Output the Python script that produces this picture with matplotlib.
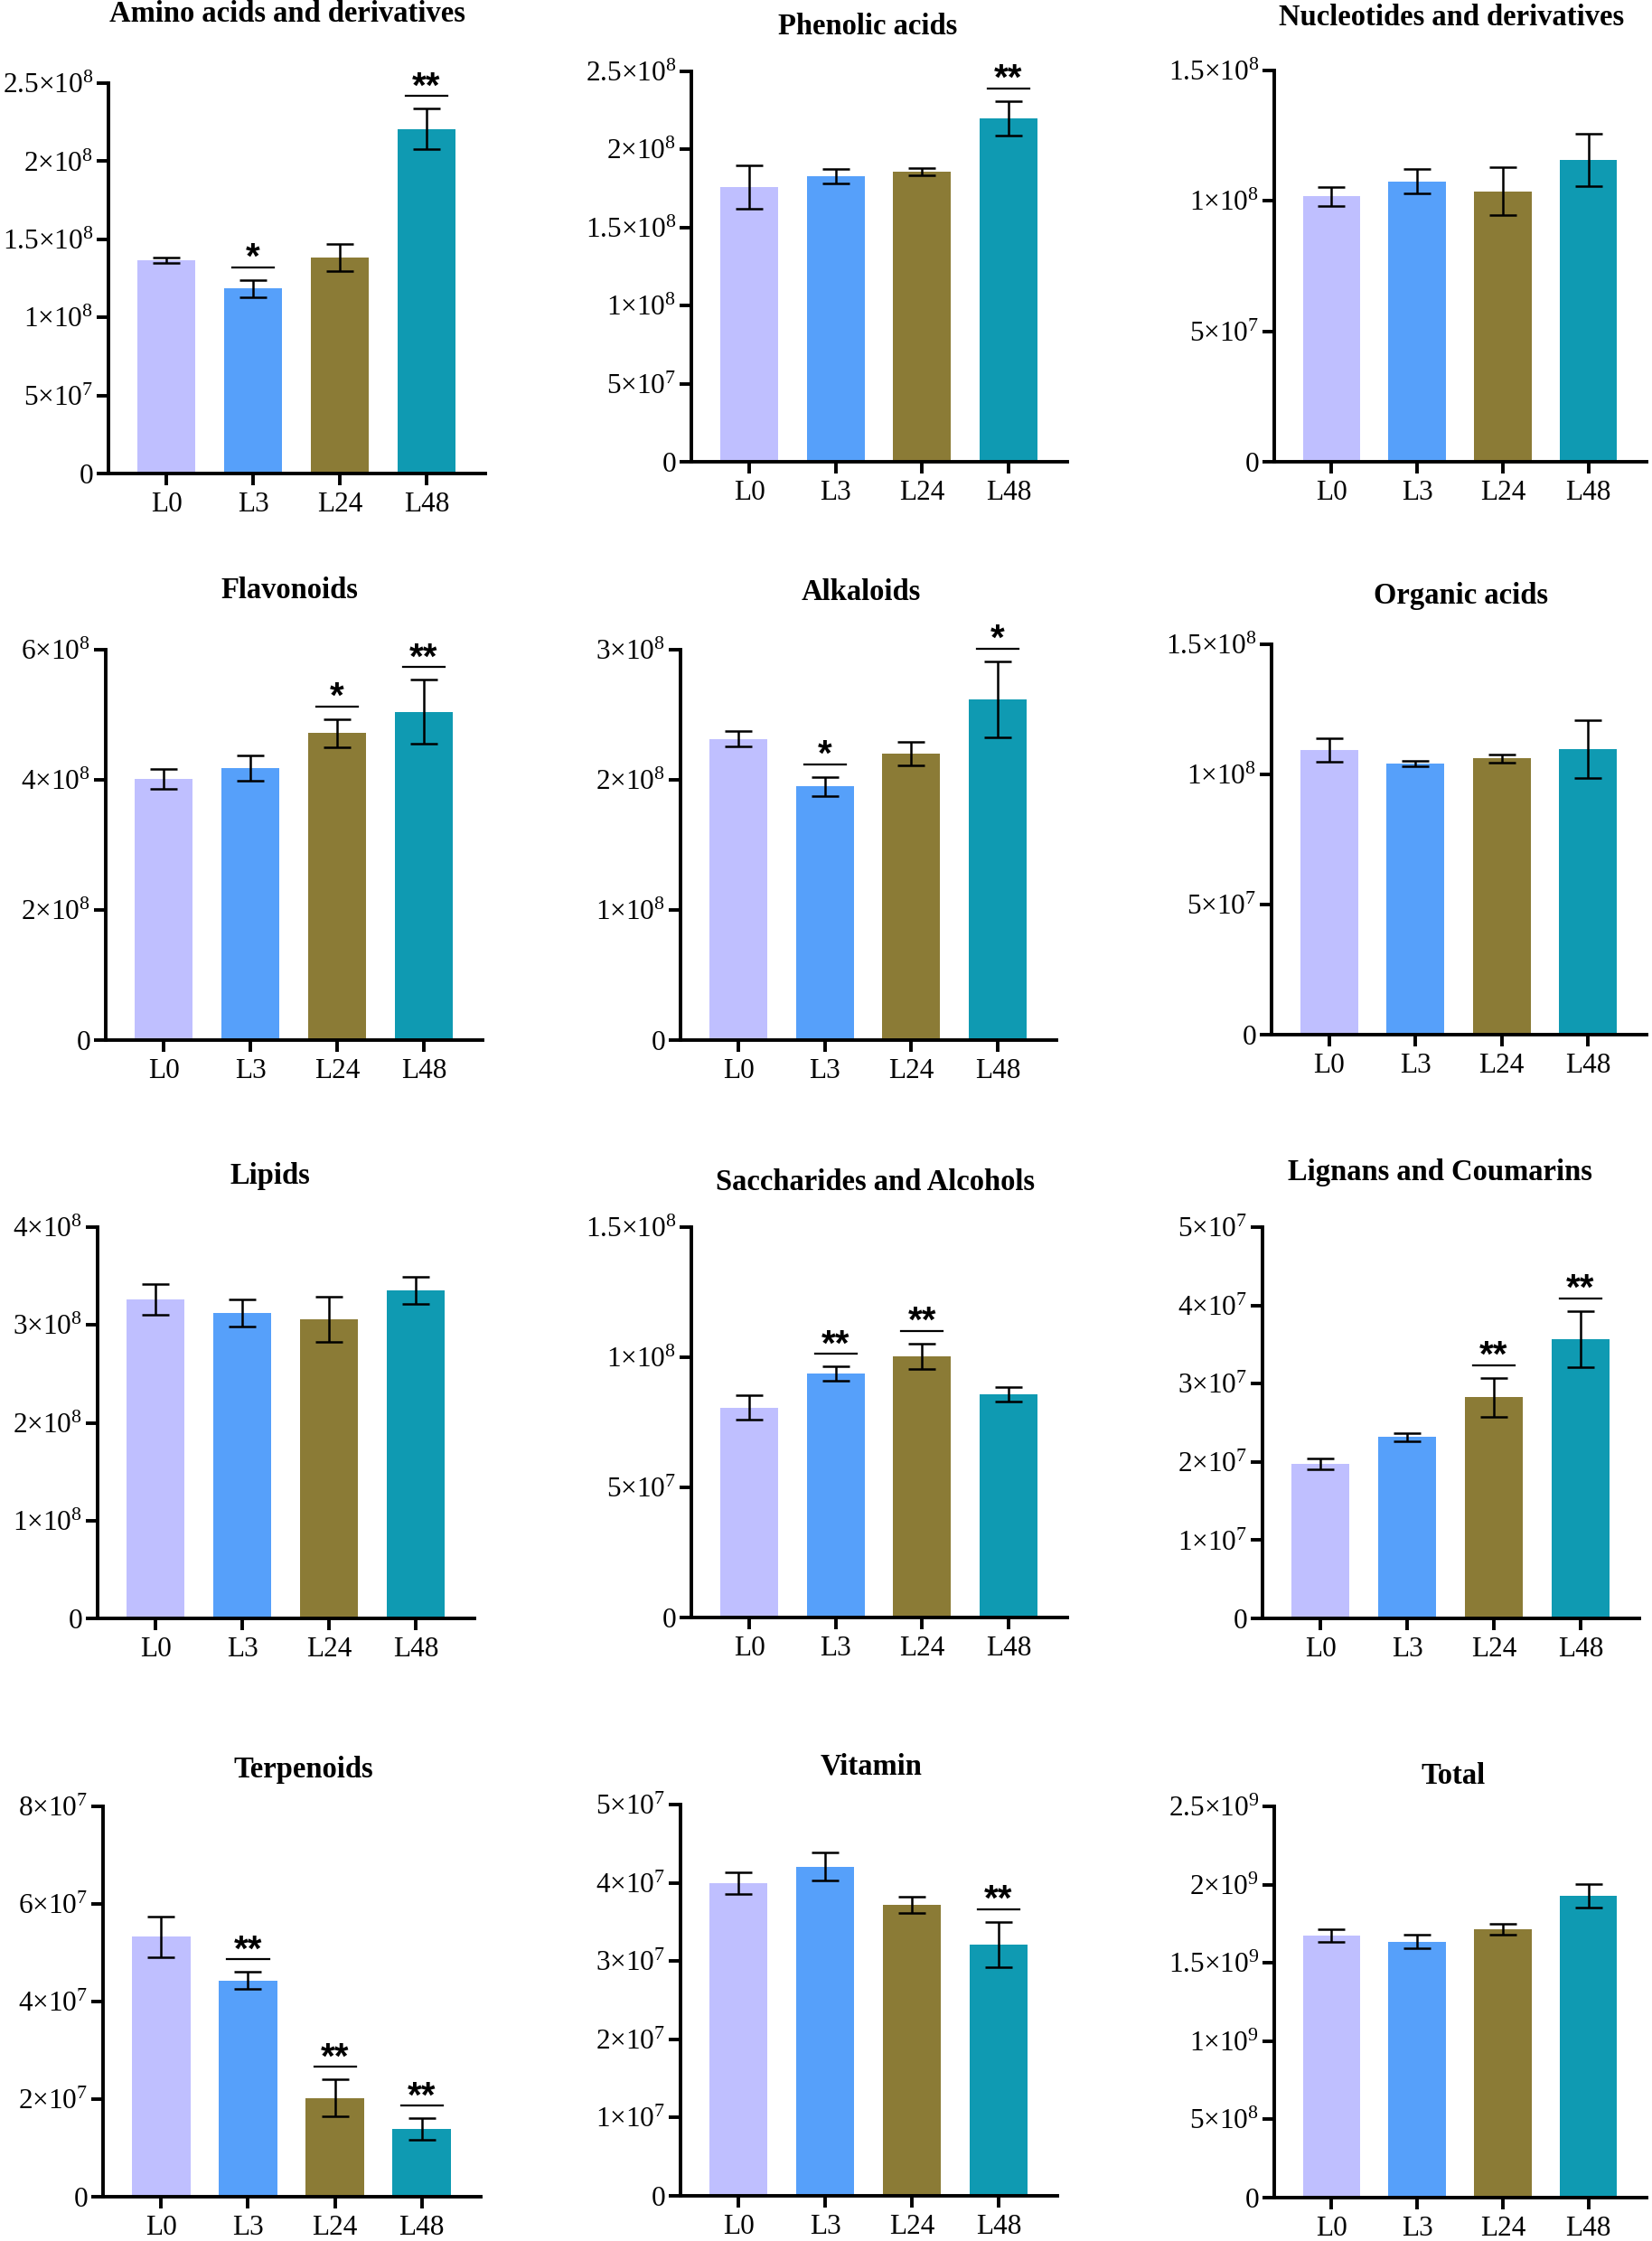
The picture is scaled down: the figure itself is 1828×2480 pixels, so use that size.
import numpy as np
import matplotlib
matplotlib.use("Agg")
import matplotlib.pyplot as plt
from matplotlib.transforms import offset_copy

plt.rcParams["font.family"] = ["Liberation Serif", "DejaVu Serif"]
plt.rcParams["mathtext.fontset"] = "custom"
plt.rcParams["mathtext.rm"] = "Liberation Serif"
plt.rcParams["mathtext.it"] = "Liberation Serif:italic"
plt.rcParams["mathtext.bf"] = "Liberation Serif:bold"

# %% data
groups = ["L0", "L3", "L24", "L48"]
bar_colors = ["#bfbfff", "#56a0fa", "#8b7b36", "#0f9ab2"]

titles = [
    "Amino acids and derivatives", "Phenolic acids", "Nucleotides and derivatives",
    "Flavonoids", "Alkaloids", "Organic acids",
    "Lipids", "Saccharides and Alcohols", "Lignans and Coumarins",
    "Terpenoids", "Vitamin", "Total",
]

amino_mean = [1.365e8, 1.184e8, 1.383e8, 2.206e8]
amino_err = [0.019e8, 0.057e8, 0.087e8, 0.13e8]
amino_sig = ["", "*", "", "**"]

phenolic_mean = [1.759e8, 1.829e8, 1.857e8, 2.199e8]
phenolic_err = [0.138e8, 0.046e8, 0.023e8, 0.109e8]
phenolic_sig = ["", "", "", "**"]

nucleo_mean = [1.017e8, 1.075e8, 1.037e8, 1.156e8]
nucleo_err = [0.036e8, 0.047e8, 0.092e8, 0.10e8]
nucleo_sig = ["", "", "", ""]

flav_mean = [4.01e8, 4.18e8, 4.716e8, 5.045e8]
flav_err = [0.15e8, 0.2e8, 0.22e8, 0.49e8]
flav_sig = ["", "", "*", "**"]

alk_mean = [2.315e8, 1.949e8, 2.203e8, 2.618e8]
alk_err = [0.06e8, 0.073e8, 0.09e8, 0.295e8]
alk_sig = ["", "*", "", "*"]

organic_mean = [1.0925e8, 1.041e8, 1.061e8, 1.0965e8]
organic_err = [0.045e8, 0.011e8, 0.015e8, 0.112e8]
organic_sig = ["", "", "", ""]

lipid_mean = [3.261e8, 3.123e8, 3.059e8, 3.353e8]
lipid_err = [0.16e8, 0.14e8, 0.23e8, 0.14e8]
lipid_sig = ["", "", "", ""]

sacch_mean = [0.806e8, 0.936e8, 1.004e8, 0.858e8]
sacch_err = [0.047e8, 0.028e8, 0.048e8, 0.028e8]
sacch_sig = ["", "**", "**", ""]

lignan_mean = [1.974e7, 2.319e7, 2.827e7, 3.569e7]
lignan_err = [0.066e7, 0.053e7, 0.25e7, 0.355e7]
lignan_sig = ["", "", "**", "**"]

terp_mean = [5.325e7, 4.428e7, 2.019e7, 1.383e7]
terp_err = [0.42e7, 0.175e7, 0.38e7, 0.22e7]
terp_sig = ["", "**", "**", "**"]

vit_mean = [3.996e7, 4.209e7, 3.718e7, 3.209e7]
vit_err = [0.14e7, 0.18e7, 0.1e7, 0.29e7]
vit_sig = ["", "", "", "**"]

total_mean = [1.674e9, 1.636e9, 1.714e9, 1.930e9]
total_err = [0.042e9, 0.045e9, 0.035e9, 0.075e9]
total_sig = ["", "", "", ""]

y_max = [2.5e8, 2.5e8, 1.5e8, 6e8, 3e8, 1.5e8, 4e8, 1.5e8, 5e7, 8e7, 5e7, 2.5e9]
y_step = [5e7, 5e7, 5e7, 2e8, 1e8, 5e7, 1e8, 5e7, 1e7, 2e7, 1e7, 5e8]

panels = [
    (amino_mean, amino_err, amino_sig),
    (phenolic_mean, phenolic_err, phenolic_sig),
    (nucleo_mean, nucleo_err, nucleo_sig),
    (flav_mean, flav_err, flav_sig),
    (alk_mean, alk_err, alk_sig),
    (organic_mean, organic_err, organic_sig),
    (lipid_mean, lipid_err, lipid_sig),
    (sacch_mean, sacch_err, sacch_sig),
    (lignan_mean, lignan_err, lignan_sig),
    (terp_mean, terp_err, terp_sig),
    (vit_mean, vit_err, vit_sig),
    (total_mean, total_err, total_sig),
]

# layout in pixels: axis left, axis right, top tick, zero line, title x, title baseline
W, H = 1828, 2480
layout = [
    (120, 537, 92, 524, 318, 24),
    (765, 1181, 79, 511, 960, 38),
    (1410, 1822, 78, 511, 1606, 28),
    (117, 534, 719, 1151, 320, 662),
    (753, 1169, 719, 1151, 953, 664),
    (1407, 1822, 713, 1145, 1616, 668),
    (108, 525, 1358, 1791, 299, 1310),
    (765, 1181, 1358, 1790, 968, 1317),
    (1397, 1814, 1358, 1791, 1593, 1306),
    (114, 532, 1999, 2431, 336, 1967),
    (753, 1170, 1997, 2430, 964, 1963),
    (1410, 1822, 1999, 2432, 1608, 1974),
]


def sci_label(v):
    if v == 0:
        return "0"
    exp = int(np.floor(np.log10(v) + 1e-9))
    mant = round(v / 10 ** exp, 3)
    return f"{mant:g}×10$^{{{exp}}}$"


fig = plt.figure(figsize=(W / 100, H / 100), dpi=100)

x = np.arange(len(groups))
for k, (means, errs, sig) in enumerate(panels):
    left, right, top, zero, tx, ty = layout[k]
    ax = fig.add_axes([left / W, 1 - zero / H, (right - left) / W, (zero - top) / H])
    ax.bar(x, means, width=0.67, color=bar_colors, zorder=1)
    ax.errorbar(
        x, means, yerr=errs, fmt="none", ecolor="black",
        elinewidth=1.8, capsize=11, capthick=1.8, zorder=3,
    )
    ax.set_xlim(-0.67, 3.68)
    ax.set_ylim(0, y_max[k])
    ticks = np.arange(0, y_max[k] + y_step[k] / 2, y_step[k])
    ax.set_yticks(ticks)
    ax.set_yticklabels([sci_label(t) for t in ticks])
    ax.set_xticks(x)
    ax.set_xticklabels(groups)
    ax.spines[["top", "right"]].set_visible(False)
    ax.spines[["left", "bottom"]].set_linewidth(2.8)
    ax.tick_params(axis="both", direction="out", length=9.3, width=2.8,
                   labelsize=22.5, color="black")
    ax.tick_params(axis="y", pad=3)
    ax.tick_params(axis="x", pad=5)

    line_tr = offset_copy(ax.transData, fig=fig, y=14, units="dots")
    star_tr = offset_copy(ax.transData, fig=fig, y=13, units="dots")
    for i, s in enumerate(sig):
        if not s:
            continue
        y = means[i] + errs[i]
        ax.plot([i - 0.24, i + 0.24], [y, y], transform=line_tr,
                color="black", lw=1.6, clip_on=False, zorder=4)
        ax.text(i, y, s, transform=star_tr, ha="center", va="baseline",
                fontsize=29, fontweight="bold", family="Liberation Sans",
                clip_on=False)

    fig.text(tx / W, 1 - ty / H, titles[k], ha="center", va="baseline",
             fontsize=23.5, fontweight="bold")

fig.savefig("out.png", dpi=100, facecolor="white")
